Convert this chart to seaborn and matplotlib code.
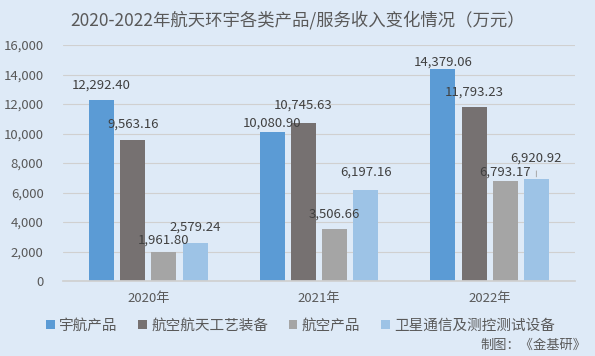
import matplotlib
matplotlib.use("Agg")
import matplotlib.pyplot as plt
import seaborn as sns
import pandas as pd

years = ["2020年", "2021年", "2022年"]
series = ["宇航产品", "航空航天工艺装备", "航空产品", "卫星通信及测控测试设备"]
v_yuhang = [12292.40, 10080.90, 14379.06]
v_gongyi = [9563.16, 10745.63, 11793.23]
v_hangkong = [1961.80, 3506.66, 6793.17]
v_weixing = [2579.24, 6197.16, 6920.92]
colors = ["#5B9BD5", "#767171", "#A5A5A5", "#9DC3E6"]

# label offsets above bar tops (pixels), per series, per year (layout only)
label_gap_px = [[15, 9, 7], [16, 17, 15], [12, 15, 9], [16, 17, 21]]

rows = []
for s, vals in zip(series, [v_yuhang, v_gongyi, v_hangkong, v_weixing]):
    for y, v in zip(years, vals):
        rows.append({"year": y, "series": s, "value": v})
df = pd.DataFrame(rows)

sns.set_theme(style="white")
plt.rcParams['font.family'] = ['Noto Sans CJK SC', 'DejaVu Sans']
bg = "#DEEAF7"
txt = "#595959"

fig = plt.figure(figsize=(5.95, 3.56), dpi=100, facecolor=bg)
ax = fig.add_axes([63/595, 1-281/356, 512/595, 236/356])
ax.set_facecolor(bg)

sns.barplot(data=df, x="year", y="value", hue="series", order=years, hue_order=series,
            palette=colors, width=0.73, gap=0.2, ax=ax, legend=True, saturation=1,
            linewidth=0)

for si, cont in enumerate(ax.containers):
    for yi, b in enumerate(cont):
        h = b.get_height()
        xc = b.get_x() + b.get_width() / 2
        gap = label_gap_px[si][yi] * 0.72
        ax.annotate(f"{h:,.2f}", (xc, h), xytext=(0, gap), textcoords="offset points",
                    ha="center", va="center", fontsize=9.5, color="#404040")
        if label_gap_px[si][yi] > 20:
            ax.annotate("", (xc, h), xytext=(0, 8 * 0.72), textcoords="offset points",
                        arrowprops=dict(arrowstyle="-", color="#A6A6A6", lw=0.7,
                                        shrinkA=0, shrinkB=1.5))

ax.set_ylim(0, 16000)
ax.set_xlim(-0.5, 2.5)
ax.set_yticks(range(0, 16001, 2000))
ax.set_yticklabels([f"{t:,}" for t in range(0, 16001, 2000)], fontsize=9.5, color=txt)
ax.tick_params(axis='x', labelsize=9.5, labelcolor=txt, length=0, pad=8)
ax.tick_params(axis='y', length=0, pad=14)
ax.grid(axis='y', color="#D0D0D0", linewidth=0.8)
ax.set_axisbelow(True)
for s in ["top", "right", "left"]:
    ax.spines[s].set_visible(False)
ax.spines["bottom"].set_color("#D0D0D0")
ax.set_xlabel("")
ax.set_ylabel("")

leg = ax.legend(loc="center", bbox_to_anchor=(0.505, 1-326/356), bbox_transform=fig.transFigure,
                ncol=4, frameon=False, fontsize=10.5, handlelength=0.6, handleheight=0.6,
                handletextpad=0.3, columnspacing=1.4, labelcolor=txt)

fig.text(0.5, 1-20/356, "2020-2022年航天环宇各类产品/服务收入变化情况（万元）",
         ha="center", va="center", fontsize=12.5, color=txt)
fig.text(586/595, 1-345/356, "制图：《金基研》", ha="right", va="center", fontsize=9.5, color=txt)

fig.savefig("out.png", dpi=100, facecolor=bg)
